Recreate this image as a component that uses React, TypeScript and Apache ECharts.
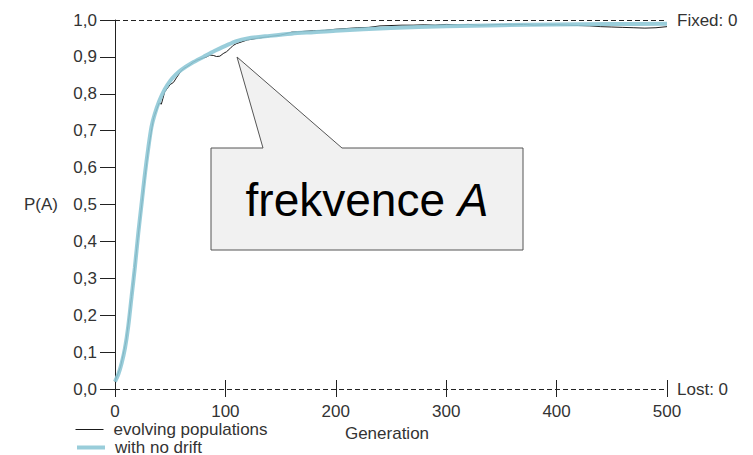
import React, { useEffect, useRef } from "react";
import * as echarts from "echarts";

const noDriftGen = [0, 3, 6, 9, 12, 15, 18, 21, 24, 27, 30, 33, 36, 40, 45, 50, 55, 60, 70, 80, 90, 100, 110, 120, 140, 160, 180, 200, 250, 300, 350, 400, 450, 500];
const noDriftP = [0.02, 0.04, 0.07, 0.11, 0.17, 0.25, 0.33, 0.42, 0.5, 0.58, 0.65, 0.71, 0.745, 0.78, 0.812, 0.835, 0.852, 0.865, 0.884, 0.9, 0.916, 0.93, 0.943, 0.95, 0.957, 0.963, 0.967, 0.971, 0.978, 0.983, 0.986, 0.988, 0.989, 0.99];

const evolvingGen = [0, 5, 10, 15, 20, 25, 30, 35, 40, 42, 45, 50, 53, 56, 59, 62, 65, 68, 71, 74, 77, 80, 83, 86, 89, 92, 95, 98, 101, 104, 107, 110, 115, 120, 130, 140, 150, 160, 170, 180, 190, 200, 210, 220, 230, 240, 250, 260, 270, 280, 290, 300, 310, 320, 330, 340, 350, 360, 370, 380, 390, 400, 410, 420, 430, 440, 450, 460, 470, 480, 490, 500];
const evolvingP = [0.02, 0.06, 0.13, 0.25, 0.39, 0.52, 0.645, 0.735, 0.775, 0.772, 0.805, 0.825, 0.831, 0.845, 0.858, 0.868, 0.873, 0.879, 0.886, 0.891, 0.894, 0.897, 0.9, 0.905, 0.904, 0.901, 0.902, 0.909, 0.914, 0.922, 0.931, 0.936, 0.941, 0.946, 0.951, 0.955, 0.959, 0.967, 0.969, 0.971, 0.972, 0.975, 0.977, 0.979, 0.98, 0.984, 0.985, 0.986, 0.986, 0.987, 0.986, 0.988, 0.987, 0.988, 0.986, 0.987, 0.988, 0.987, 0.988, 0.986, 0.987, 0.987, 0.986, 0.985, 0.984, 0.982, 0.981, 0.98, 0.979, 0.978, 0.979, 0.982];

const seriesNames = ["evolving populations", "with no drift"];
const fixedLabel = "Fixed: 0";
const lostLabel = "Lost: 0";
const xName = "Generation";
const yName = "P(A)";
const calloutWord = "frekvence ";
const calloutItalic = "A";

const FONT = "'Liberation Sans', Arial, sans-serif";

export default function App() {
  const ref = useRef<HTMLDivElement>(null);
  useEffect(() => {
    const chart = echarts.init(ref.current!, null, { renderer: "svg" });
    const txt = { fontFamily: FONT, fontSize: 17, color: "#333" };
    const legendBase = {
      orient: "vertical",
      left: 75,
      itemWidth: 28,
      itemHeight: 12,
      padding: 0,
      textStyle: { ...txt, padding: [0, 0, 0, 5] },
      itemStyle: { opacity: 0, borderWidth: 0 },
      selectedMode: false,
    };
    chart.setOption({
      animation: false,
      backgroundColor: "#ffffff",
      grid: { left: 115, right: 86, top: 20, bottom: 66, containLabel: false },
      legend: [
        { ...legendBase, data: [seriesNames[0]], top: 421, lineStyle: { width: 1 } },
        { ...legendBase, data: [seriesNames[1]], top: 439, lineStyle: { width: 4 } },
      ],
      xAxis: [
        {
          type: "value",
          min: 0,
          max: 500,
          interval: 100,
          axisLine: { show: false },
          axisTick: { show: true, length: 8, lineStyle: { color: "#222", width: 1 } },
          axisLabel: { ...txt, margin: 14 },
          splitLine: { show: false },
          name: xName,
          nameLocation: "middle",
          nameGap: 36,
          nameTextStyle: { ...txt, padding: [0, 8, 0, 0] },
        },
        {
          type: "value",
          min: 0,
          max: 500,
          interval: 100,
          position: "bottom",
          axisLine: { show: false },
          axisTick: { show: true, inside: true, length: 9, lineStyle: { color: "#222", width: 1 } },
          axisLabel: { show: false },
          splitLine: { show: false },
        },
      ],
      yAxis: {
        type: "value",
        min: 0,
        max: 1,
        interval: 0.1,
        axisLine: { show: true, lineStyle: { color: "#222", width: 1 } },
        axisTick: { show: true, length: 15, lineStyle: { color: "#222", width: 1 } },
        axisLabel: { ...txt, margin: 18, formatter: (v: number) => v.toFixed(1).replace(".", ",") },
        splitLine: { show: false },
        name: yName,
        nameLocation: "middle",
        nameRotate: 0,
        nameGap: 57,
        nameTextStyle: { ...txt },
      },
      series: [
        {
          name: seriesNames[0],
          type: "line",
          xAxisIndex: 0,
          data: evolvingGen.map((g, i) => [g, evolvingP[i]]),
          showSymbol: false,
          symbol: "none",
          lineStyle: { color: "#1a1a1a", width: 1 },
          itemStyle: { color: "#1a1a1a" },
          z: 2,
          markLine: {
            silent: true,
            symbol: "none",
            lineStyle: { color: "#222", width: 1, type: [5, 3] },
            label: { show: true, position: "end", distance: 10, ...txt },
            data: [
              { yAxis: 1, label: { formatter: fixedLabel } },
              { yAxis: 0, label: { formatter: lostLabel } },
            ],
          },
        },
        {
          name: seriesNames[1],
          type: "line",
          xAxisIndex: 0,
          data: noDriftGen.map((g, i) => [g, noDriftP[i]]),
          smooth: 0.3,
          showSymbol: false,
          symbol: "none",
          lineStyle: { color: "#8ec8d6", width: 4, opacity: 0.9 },
          itemStyle: { color: "#8ec8d6" },
          z: 3,
        },
      ],
      graphic: [
        {
          type: "polygon",
          z: 100,
          shape: {
            points: [
              [211, 148],
              [263, 148],
              [237, 57],
              [342, 148],
              [523, 148],
              [523, 250],
              [211, 250],
            ],
          },
          style: { fill: "#f1f1f1", stroke: "#555", lineWidth: 1 },
        },
        {
          type: "text",
          z: 101,
          x: 367,
          y: 200,
          style: {
            text: "{n|" + calloutWord + "}{i|" + calloutItalic + "}",
            align: "center",
            verticalAlign: "middle",
            rich: {
              n: { fontFamily: FONT, fontSize: 46, fill: "#000" },
              i: { fontFamily: FONT, fontSize: 46, fontStyle: "italic", fill: "#000" },
            },
          },
        },
      ],
    });
    return () => chart.dispose();
  }, []);
  return (
    <div
      ref={ref}
      style={{ position: "fixed", left: 0, top: 0, width: 753, height: 455, background: "#fff" }}
    />
  );
}
